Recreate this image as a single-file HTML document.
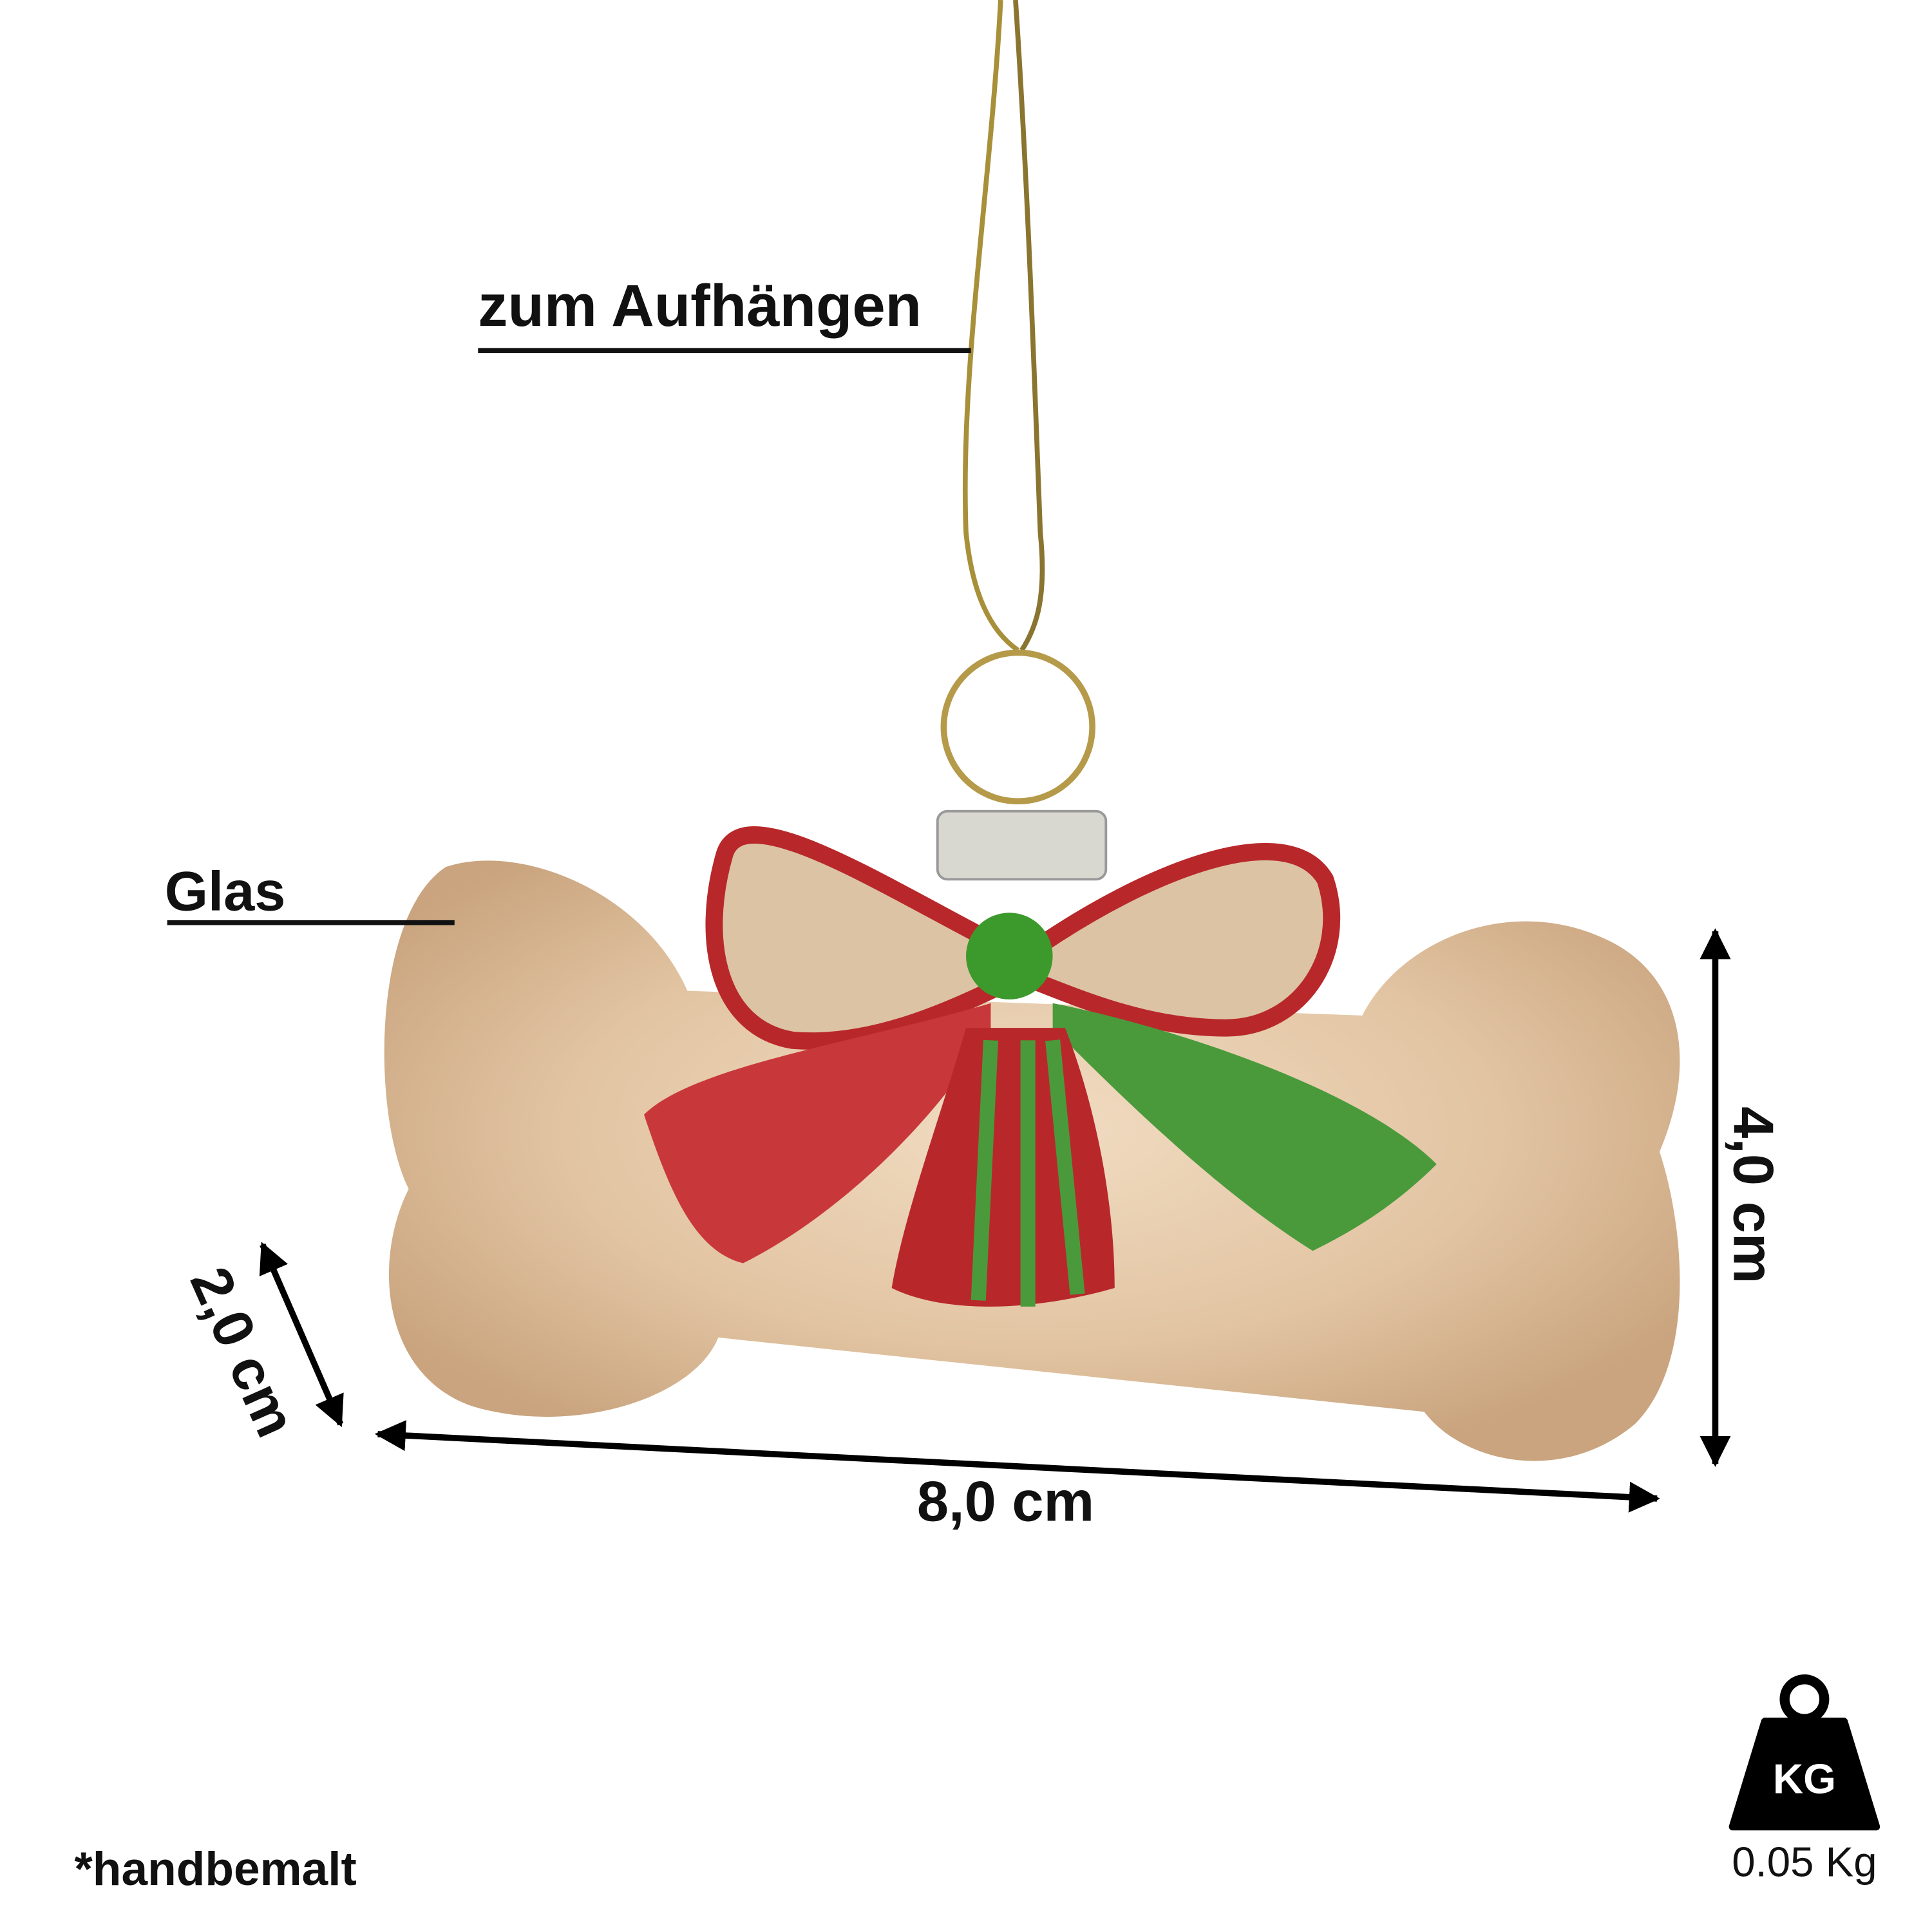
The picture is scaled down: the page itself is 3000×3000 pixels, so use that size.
<!DOCTYPE html>
<html><head><meta charset="utf-8"><style>
html,body{margin:0;padding:0;background:#fff;}
svg{display:block;}
text{font-family:"Liberation Sans",sans-serif;}
</style></head><body>
<svg width="3000" height="3000" viewBox="0 0 1560 1560" xmlns="http://www.w3.org/2000/svg">
<defs>
<radialGradient id="bone" cx="50%" cy="45%" r="60%">
<stop offset="0" stop-color="#f1dcc2"/><stop offset="0.6" stop-color="#e2c4a2"/><stop offset="1" stop-color="#c9a47e"/>
</radialGradient>
<marker id="ah" viewBox="0 0 10 10" refX="9" refY="5" markerWidth="5" markerHeight="5" orient="auto-start-reverse"><path d="M0,0 L10,5 L0,10 z" fill="#000"/></marker>
</defs>
<rect width="1560" height="1560" fill="#fff"/>
<!-- string -->
<path d="M808,0 C800,150 775,300 780,430 C785,480 800,510 822,525" stroke="#a8903a" stroke-width="4" fill="none"/>
<path d="M820,0 C830,150 835,300 840,430 C845,480 838,505 825,525" stroke="#8a7530" stroke-width="4" fill="none"/>
<circle cx="822" cy="587" r="60" fill="none" stroke="#b59a4a" stroke-width="5"/>
<!-- bone -->
<path d="M360,700 C420,680 520,720 555,800 L1100,820 C1130,760 1220,720 1300,760 C1360,790 1370,860 1340,930 C1360,990 1370,1100 1320,1150 C1260,1200 1180,1180 1150,1140 L580,1080 C560,1130 460,1160 380,1135 C310,1110 300,1020 330,960 C300,900 300,740 360,700 Z" fill="url(#bone)"/>
<!-- cap -->
<rect x="757" y="655" width="136" height="55" rx="8" fill="#d8d8d0" stroke="#999" stroke-width="2"/>
<!-- bow loops -->
<path d="M820,770 C720,720 600,640 585,690 C565,760 580,830 640,840 C700,845 760,820 820,790 Z" fill="#dcc3a4" stroke="#b8282a" stroke-width="14"/>
<path d="M830,770 C930,700 1040,660 1070,710 C1090,770 1050,830 990,830 C930,830 880,810 830,790 Z" fill="#dcc3a4" stroke="#b8282a" stroke-width="14"/>
<path d="M800,810 C700,840 560,860 520,900 C540,960 560,1010 600,1020 C680,980 760,900 800,830 Z" fill="#c8383a"/>
<path d="M850,810 C950,830 1100,880 1160,940 C1120,980 1080,1000 1060,1010 C980,960 900,880 850,830 Z" fill="#4a9a3c"/>
<path d="M780,830 C760,900 730,980 720,1040 C760,1060 830,1060 900,1040 C900,960 880,880 860,830 Z" fill="#b8282a"/>
<path d="M800,840 L790,1050 M830,840 L830,1055 M850,840 L870,1045" stroke="#4a9a3c" stroke-width="12"/>
<circle cx="815" cy="772" r="35" fill="#3c9a2c"/>
<!-- labels -->
<text x="386" y="263" font-size="48" font-weight="bold" fill="#111">zum Aufhängen</text>
<line x1="386" y1="283" x2="784" y2="283" stroke="#111" stroke-width="4"/>
<text x="133" y="735" font-size="45" font-weight="bold" fill="#111">Glas</text>
<line x1="135" y1="745" x2="367" y2="745" stroke="#111" stroke-width="4"/>
<!-- arrows -->
<line x1="1385" y1="752" x2="1385" y2="1182" stroke="#000" stroke-width="5" marker-start="url(#ah)" marker-end="url(#ah)"/>
<text transform="translate(1400,965) rotate(90)" font-size="46" font-weight="bold" text-anchor="middle" fill="#111">4,0 cm</text>
<line x1="212" y1="1005" x2="275" y2="1150" stroke="#000" stroke-width="5" marker-start="url(#ah)" marker-end="url(#ah)"/>
<text transform="translate(182,1098) rotate(66)" font-size="46" font-weight="bold" text-anchor="middle" fill="#111">2,0 cm</text>
<line x1="305" y1="1158" x2="1338" y2="1210" stroke="#000" stroke-width="5" marker-start="url(#ah)" marker-end="url(#ah)"/>
<text x="812" y="1228" font-size="46" font-weight="bold" text-anchor="middle" fill="#111">8,0 cm</text>
<!-- weight -->
<circle cx="1457" cy="1372" r="16" fill="none" stroke="#000" stroke-width="8"/>
<path d="M1425,1390 L1489,1390 L1515,1475 L1399,1475 Z" fill="#000" stroke="#000" stroke-width="6" stroke-linejoin="round"/>
<text x="1457" y="1448" font-size="34" font-weight="bold" text-anchor="middle" fill="#fff">KG</text>
<text x="1457" y="1515" font-size="34" text-anchor="middle" fill="#111">0.05 Kg</text>
<text x="60" y="1522" font-size="38" font-weight="bold" fill="#111">*handbemalt</text>
</svg>
</body></html>
